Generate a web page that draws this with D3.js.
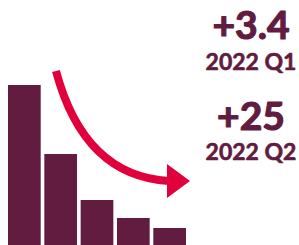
<!DOCTYPE html>
<html>
<head>
<meta charset="utf-8">
<script src="https://cdn.jsdelivr.net/npm/d3@7"></script>
<style>
  body { margin: 0; background: #fff; }
  svg { display: block; }
  text { font-family: Lato, "Open Sans", sans-serif; font-weight: 700; fill: #611c3f; stroke: #611c3f; stroke-linejoin: round; }
</style>
</head>
<body>
<svg width="299" height="245"></svg>
<script>
// bar heights (relative units)
var bars = ["b1", "b2", "b3", "b4", "b5"],
    values = [160, 91, 45, 27, 17];

// callout figures
var figures = ["+3.4", "+25"],
    periods = ["2022 Q1", "2022 Q2"];

var svg = d3.select("svg"),
    width = 299,
    height = 245;

var x = d3.scaleBand()
    .domain(bars)
    .range([8, 186])
    .paddingInner(0.1);

var y = d3.scaleLinear()
    .domain([0, 160])
    .range([height, 85]);

svg.append("g")
  .selectAll("rect")
  .data(values)
  .enter().append("rect")
  .attr("x", function(d, i) { return x(bars[i]); })
  .attr("y", function(d) { return y(d); })
  .attr("width", x.bandwidth())
  .attr("height", function(d) { return height - y(d); })
  .attr("fill", "#611c3f");

// curved arrow
svg.append("path")
  .attr("d", "M56,71Q84,176 169,181")
  .attr("fill", "none")
  .attr("stroke", "#e2003c")
  .attr("stroke-width", 8);

svg.append("path")
  .attr("d", "M167,164L190,181L167,198Z")
  .attr("fill", "#e2003c");

var labels = svg.append("g")
    .attr("text-anchor", "middle");

var figY = [39, 130],
    perY = [70, 160];

labels.selectAll(".fig")
  .data(figures)
  .enter().append("text")
  .attr("class", "fig")
  .attr("x", 251)
  .attr("y", function(d, i) { return figY[i]; })
  .attr("font-size", 39)
  .attr("stroke-width", 1.2)
  .text(function(d) { return d; });

labels.selectAll(".per")
  .data(periods)
  .enter().append("text")
  .attr("class", "per")
  .attr("x", 251)
  .attr("y", function(d, i) { return perY[i]; })
  .attr("font-size", 23)
  .attr("stroke-width", 0.6)
  .text(function(d) { return d; });
</script>
</body>
</html>
